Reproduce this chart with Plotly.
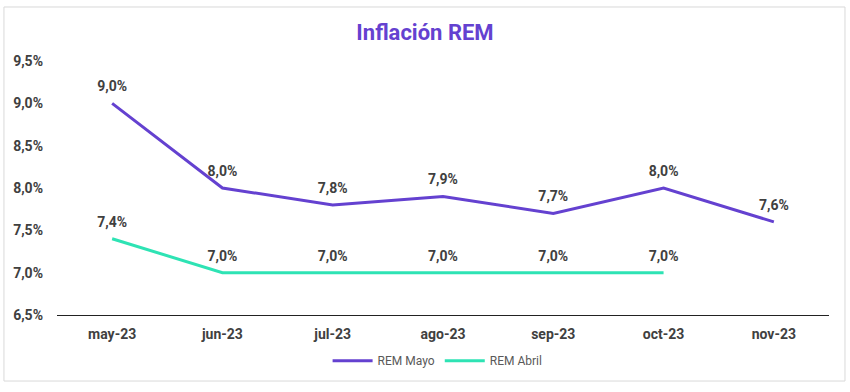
import plotly.graph_objects as go

categories = ["may-23", "jun-23", "jul-23", "ago-23", "sep-23", "oct-23", "nov-23"]
rem_mayo = [0.090, 0.080, 0.078, 0.079, 0.077, 0.080, 0.076]
rem_abril = [0.074, 0.070, 0.070, 0.070, 0.070, 0.070, None]
y_ticks = [0.065, 0.070, 0.075, 0.080, 0.085, 0.090, 0.095]

PURPLE = "#6441D0"
TEAL = "#2EE3B4"
TXT = "#404040"
FONT = "Roboto"

fig = go.Figure()
for name, vals, col in [("REM Mayo", rem_mayo, PURPLE), ("REM Abril", rem_abril, TEAL)]:
    fig.add_trace(go.Scatter(
        x=categories, y=vals, name=name, mode="lines+markers+text",
        line=dict(color=col, width=3),
        marker=dict(size=12, color="rgba(0,0,0,0)"),
        texttemplate="%{y:.1%}", textposition="top center",
        textfont=dict(family=FONT, size=14, color=TXT, weight="bold"),
    ))

fig.update_layout(
    width=850, height=392,
    margin=dict(l=57, r=21, t=61, b=77),
    paper_bgcolor="white", plot_bgcolor="white",
    separators=",.",
    font=dict(family=FONT, color=TXT),
    title=dict(text="Inflación REM", x=0.5, xanchor="center", y=0.918, yanchor="middle",
               font=dict(family=FONT, size=22, color=PURPLE, weight="bold")),
    showlegend=True,
    legend=dict(orientation="h", x=0.493, xanchor="center", y=-0.18, yanchor="middle",
                font=dict(family=FONT, size=12, color="#595959"), itemwidth=40,
                traceorder="normal"),
    xaxis=dict(range=[-0.5, 6.5], showgrid=False, showline=True, linecolor="#222222", linewidth=1,
               ticks="", tickfont=dict(family=FONT, size=14, color=TXT, weight="bold"),
               ticklabelstandoff=6),
    yaxis=dict(range=[0.065, 0.095], tickvals=y_ticks, tickformat=".1%",
               showgrid=False, zeroline=False, showline=False,
               tickfont=dict(family=FONT, size=14, color=TXT, weight="bold"), ticklabelstandoff=13),
    shapes=[dict(type="rect", xref="paper", yref="paper",
                 x0=-0.0687, x1=1.0207, y0=-0.26, y1=1.2126,
                 line=dict(color="#D9D9D9", width=1), layer="below")],
)

fig.write_html("out.html", config={"displayModeBar": False},
               post_script="document.body.style.margin='0px';")
